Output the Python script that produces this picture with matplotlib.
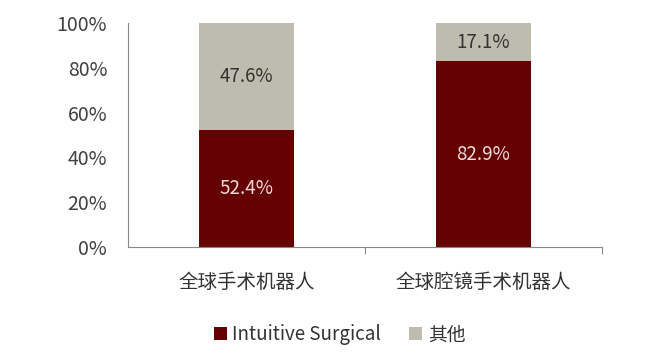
import matplotlib.pyplot as plt
import numpy as np

plt.rcParams['font.family'] = ['Noto Sans CJK SC', 'DejaVu Sans']

categories = ["全球手术机器人", "全球腔镜手术机器人"]
intuitive = [52.4, 82.9]
others = [47.6, 17.1]
series_names = ["Intuitive Surgical", "其他"]
yticks = [0, 20, 40, 60, 80, 100]

red = "#640000"
grey = "#BEBCAE"

fig = plt.figure(figsize=(6.53, 3.56), dpi=100)
ax = fig.add_axes([0.196, 0.306, 0.726, 0.629])

x = np.arange(len(categories))
b1 = ax.bar(x, intuitive, width=0.4, color=red, label=series_names[0])
b2 = ax.bar(x, others, width=0.4, bottom=intuitive, color=grey, label=series_names[1])

for i in range(len(categories)):
    ax.text(x[i], intuitive[i] / 2, f"{intuitive[i]:.1f}%", ha="center", va="center",
            color="#F4DADA", fontsize=13.5)
    ax.text(x[i], intuitive[i] + others[i] / 2, f"{others[i]:.1f}%", ha="center", va="center",
            color="#333333", fontsize=13.5)

ax.set_xlim(-0.5, 1.5)
ax.set_ylim(0, 100)
ax.set_yticks(yticks)
ax.set_yticklabels([f"{v}%" for v in yticks], fontsize=14, color="#404040")
ax.tick_params(axis="y", length=0, pad=15)

# x ticks sit at category boundaries, labels in the middle
ax.set_xticks([0.5, 1.5])
ax.set_xticklabels([])
ax.set_xticks(x, minor=True)
ax.set_xticklabels(categories, minor=True, fontsize=14, color="#333333")
ax.tick_params(axis="x", which="major", length=5, color="#888888")
ax.tick_params(axis="x", which="minor", length=0, pad=18)

for s in ["top", "right"]:
    ax.spines[s].set_visible(False)
ax.spines["left"].set_color("#888888")
ax.spines["bottom"].set_color("#888888")

fig.legend(handles=[b1, b2], loc="center", bbox_to_anchor=(0.52, 0.059), ncol=2,
           frameon=False, fontsize=13.5, handlelength=0.7, handleheight=0.7,
           handletextpad=0.3, columnspacing=1.5, labelcolor="#333333")

fig.savefig("out.png", dpi=100)
